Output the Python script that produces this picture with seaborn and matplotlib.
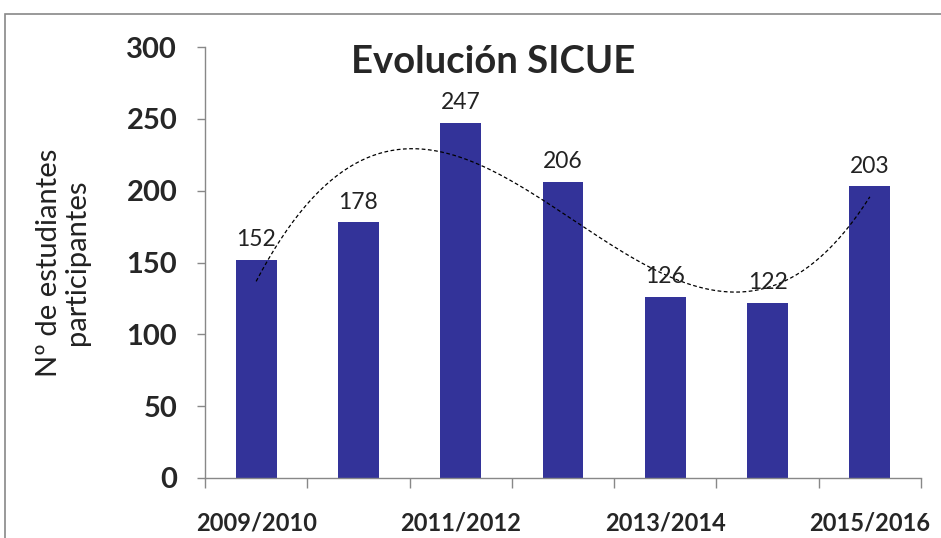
import numpy as np
import pandas as pd
import matplotlib
matplotlib.use("Agg")
import matplotlib.pyplot as plt
import seaborn as sns
from matplotlib.patches import Rectangle

categories = ["2009/2010", "2010/2011", "2011/2012", "2012/2013", "2013/2014", "2014/2015", "2015/2016"]
values = [152, 178, 247, 206, 126, 122, 203]
shown_labels = ["2009/2010", "", "2011/2012", "", "2013/2014", "", "2015/2016"]
yticks = [0, 50, 100, 150, 200, 250, 300]

sns.set_theme(style="white")
plt.rcParams['font.family'] = ['Lato', 'DejaVu Sans']

fig = plt.figure(figsize=(9.41, 5.38), dpi=100)
ax = fig.add_axes([205/941, 1-478/538, 716/941, 431/538])

df = pd.DataFrame({"cat": categories, "val": values})
sns.barplot(data=df, x="cat", y="val", color="#333399", width=0.4, saturation=1,
            linewidth=0, ax=ax)

# polynomial trend (order 3) fitted on the data
xs = np.arange(len(values))
coef = np.polyfit(xs, values, 3)
xf = np.linspace(0, len(values)-1, 200)
ax.plot(xf, np.polyval(coef, xf), ls=(0, (3, 2)), color="black", lw=0.9)

for i, v in enumerate(values):
    ax.annotate(str(v), (i, v), xytext=(0, 7), textcoords="offset points",
                ha="center", va="bottom", fontsize=16.5, color="#222222")

ax.set_xlim(-0.5, len(values)-0.5)
ax.set_ylim(0, 300)
ax.set_yticks(yticks)
ax.set_yticklabels([str(t) for t in yticks], fontsize=21, fontweight="bold")
ax.set_xticks(xs)
ax.set_xticklabels(shown_labels, fontsize=17, fontweight="bold")
ax.set_xticks(np.arange(-0.5, len(values), 1.0), minor=True)
ax.tick_params(axis="x", which="major", length=0, pad=24)
ax.tick_params(axis="x", which="minor", length=7, width=1, color="#888888", direction="out", bottom=True)
ax.tick_params(axis="y", length=6, width=1, color="#888888", direction="out", left=True, pad=14)
ax.set_xlabel("")
ax.set_ylabel("Nº de estudiantes\nparticipantes", fontsize=21, labelpad=26, linespacing=1.1,
              color="#222222")

for s in ["top", "right"]:
    ax.spines[s].set_visible(False)
for s in ["left", "bottom"]:
    ax.spines[s].set_visible(True)
    ax.spines[s].set_color("#888888")
    ax.spines[s].set_linewidth(1)

ax.text(0.402, 0.965, "Evolución SICUE", transform=ax.transAxes, ha="center", va="center",
        fontsize=27.5, fontweight="bold")

fig.patches.append(Rectangle((5/941, -0.01), 1.0, 1-14/538+0.01, transform=fig.transFigure,
                             fill=False, edgecolor="#888888", lw=1.2))

fig.savefig("out.png", dpi=100)
